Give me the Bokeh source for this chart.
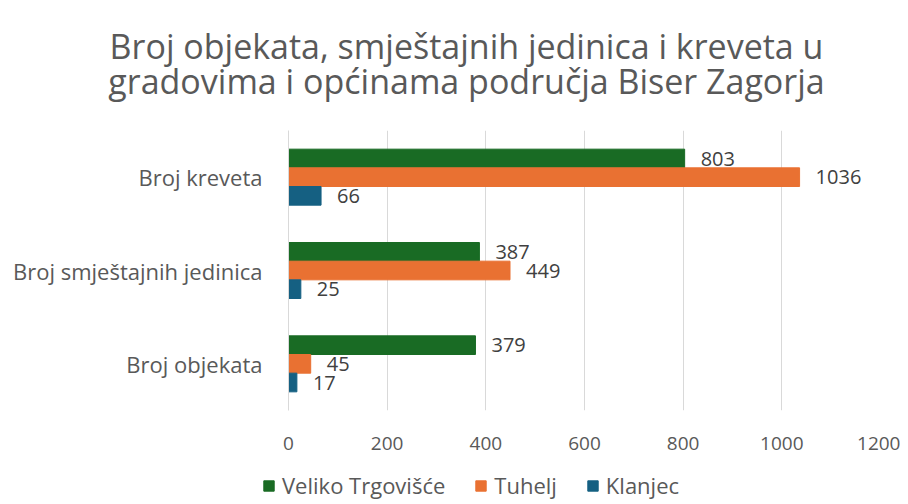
from bokeh.plotting import figure
from bokeh.layouts import column, row
from bokeh.models import Range1d, FactorRange, FixedTicker, Legend, LegendItem, Label, ColumnDataSource
from bokeh.transform import dodge
from bokeh.core.properties import value
from bokeh.embed import file_html
from bokeh.resources import INLINE

categories = ["Broj objekata", "Broj smještajnih jedinica", "Broj kreveta"]
series_names = ["Veliko Trgovišće", "Tuhelj", "Klanjec"]
veliko = [379, 387, 803]
tuhelj = [45, 449, 1036]
klanjec = [17, 25, 66]
colors = ["#196B24", "#E97132", "#156082"]
x_ticks = [0, 200, 400, 600, 800, 1000, 1200]
title_lines = ["Broj objekata, smještajnih jedinica i kreveta u",
               "gradovima i općinama područja Biser Zagorja"]

FONT = "Open Sans"
W = 900
src = ColumnDataSource(dict(
    cat=categories,
    v=veliko, t=tuhelj, k=klanjec,
    vl=[str(x) for x in veliko], tl=[str(x) for x in tuhelj], kl=[str(x) for x in klanjec],
))

def strip(h, xr, yr):
    f = figure(width=W, height=h, output_backend="svg", toolbar_location=None,
               x_range=xr, y_range=yr,
               min_border=0, min_border_left=0, min_border_right=0,
               min_border_top=0, min_border_bottom=0)
    f.axis.visible = False
    f.grid.visible = False
    f.outline_line_color = None
    return f

# ---- title strip (pixel-like coordinates, y from top) ----
TH = 130
tf = strip(TH, Range1d(0, W), Range1d(TH, 0))
for line, yc in zip(title_lines, [45, 80]):
    tf.add_layout(Label(x=466, y=yc, text=line, text_align="center", text_baseline="middle",
                        text_font=FONT, text_font_size="34px", text_color="#595959"))

# ---- main chart ----
p = figure(width=W, height=332, output_backend="svg", toolbar_location=None,
           y_range=FactorRange(*categories), x_range=Range1d(0, 1200),
           min_border_left=288, min_border_right=20, min_border_top=0, min_border_bottom=52)
p.title = None
p.outline_line_color = None

offsets = [0.2, 0.0, -0.2]
fields = ["v", "t", "k"]
lfields = ["vl", "tl", "kl"]
for f, lf, off, c in zip(fields, lfields, offsets, colors):
    p.hbar(y=dodge("cat", off, range=p.y_range), right=f, left=0, height=0.2,
           source=src, fill_color=c, line_color=c)
    p.text(x=f, y=dodge("cat", off, range=p.y_range), text=lf, source=src,
           x_offset=16, text_baseline="middle", text_align="left",
           text_font=value(FONT), text_font_size="20px", text_color="#404040")

p.xaxis.ticker = FixedTicker(ticks=x_ticks)
p.xaxis.axis_line_color = None
p.xaxis.major_tick_line_color = None
p.xaxis.minor_tick_line_color = None
p.xaxis.major_label_standoff = 20
p.xaxis.major_label_text_font = FONT
p.xaxis.major_label_text_font_size = "19px"
p.xaxis.major_label_text_color = "#595959"

p.yaxis.axis_line_color = "#D9D9D9"
p.yaxis.major_tick_line_color = None
p.yaxis.minor_tick_line_color = None
p.yaxis.major_label_standoff = 20
p.yaxis.major_label_text_font = FONT
p.yaxis.major_label_text_font_size = "22px"
p.yaxis.major_label_text_color = "#595959"

p.xgrid.grid_line_color = "#D9D9D9"
p.ygrid.grid_line_color = None

# ---- legend strip (its bars are hidden; only the legend shows) ----
lg = strip(38, Range1d(0, 1200), FactorRange(*categories))
lg_renderers = []
for f, off, c in zip(fields, offsets, colors):
    r = lg.hbar(y=dodge("cat", off, range=lg.y_range), right=f, left=0, height=0.2,
                source=src, fill_color=c, line_color=c, visible=False)
    lg_renderers.append(r)
legend = Legend(items=[LegendItem(label=n, renderers=[r]) for n, r in zip(series_names, lg_renderers)],
                orientation="horizontal", location=(262, 0),
                glyph_width=13, glyph_height=13, label_standoff=7, spacing=29,
                label_text_font=FONT, label_text_font_size="22px", label_text_color="#595959",
                background_fill_alpha=0, border_line_color=None, padding=0, margin=0)
lg.add_layout(legend)

layout = column(row(tf), row(p), row(lg), spacing=0)
open("out.html", "w").write(file_html(layout, INLINE))
